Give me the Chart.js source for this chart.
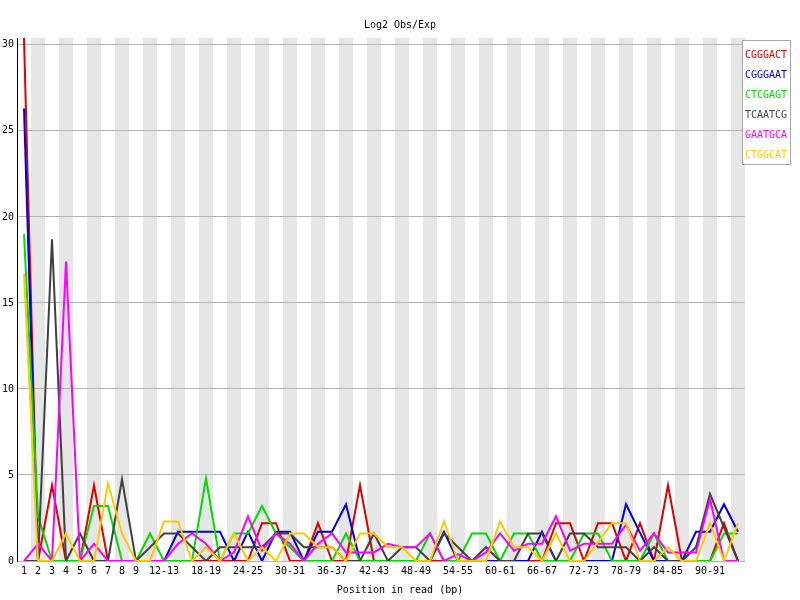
<!DOCTYPE html>
<html>
<head>
<meta charset="utf-8">
<script src="https://cdn.jsdelivr.net/npm/chart.js@4/dist/chart.umd.min.js"></script>
<style>
html, body { margin: 0; padding: 0; background: #fff; }
</style>
</head>
<body>
<canvas id="kmerChart" width="800" height="600"></canvas>
<script>
// positions in read (bp), grouped after 9
const positions = ['1','2','3','4','5','6','7','8','9','10-11','12-13','14-15','16-17','18-19',
	'20-21','22-23','24-25','26-27','28-29','30-31','32-33','34-35','36-37','38-39','40-41',
	'42-43','44-45','46-47','48-49','50-51','52-53','54-55','56-57','58-59','60-61','62-63',
	'64-65','66-67','68-69','70-71','72-73','74-75','76-77','78-79','80-81','82-83','84-85',
	'86-87','88-89','90-91','92-93','94-95'];

const kmers = ['CGGGACT', 'CGGGAAT', 'CTCGAGT', 'TCAATCG', 'GAATGCA', 'CTGGCAT'];

const cgggact = [30.4, 0, 4.4, 0, 0, 4.4, 0, 0, 0, 0,
	0, 0, 0, 0, 0, 0, 0, 2.2, 2.2, 0,
	0, 2.2, 0, 0, 4.4, 0, 0, 0, 0, 0,
	0, 0, 0, 0, 0, 0, 0, 0, 2.2, 2.2,
	0, 2.2, 2.2, 0, 2.2, 0, 4.4, 0, 0, 0,
	2.2, 0];
const cgggaat = [26.3, 0, 0, 0, 0, 0, 0, 0, 0, 0,
	0, 1.7, 1.7, 1.7, 1.7, 0, 1.7, 0, 1.7, 1.7,
	0, 1.7, 1.7, 3.3, 0, 0, 0, 0, 0, 0,
	1.7, 0, 0, 0, 0, 0, 0, 1.7, 0, 0,
	0, 0, 0, 3.3, 1.65, 0, 0, 0, 1.7, 1.7,
	3.3, 1.7];
const ctcgagt = [19.0, 2.6, 0, 0, 0, 3.2, 3.2, 0, 0, 1.6,
	0, 0, 0, 4.8, 0, 1.6, 1.6, 3.2, 1.6, 0.8,
	0, 0, 0, 1.6, 0, 0, 0, 0, 0, 1.6,
	0, 0, 1.6, 1.6, 0, 1.6, 1.6, 0, 0, 0,
	1.6, 1.6, 0, 0, 0, 1.6, 0, 0, 0, 0,
	1.6, 1.6];
const tcaatcg = [0, 0, 18.7, 0, 1.6, 0, 0, 4.75, 0, 0.8,
	1.6, 1.6, 0.8, 0, 0.8, 0.8, 0.8, 0.8, 1.6, 1.6,
	0.8, 0.8, 0.8, 0, 0, 1.6, 0, 0.8, 0.8, 0,
	1.6, 0.8, 0, 0.8, 0, 0, 1.6, 1.6, 0, 1.6,
	1.6, 0.8, 0.8, 0.8, 0, 0.8, 0, 0, 0.8, 3.9,
	1.95, 0];
const gaatgca = [0, 1.0, 0, 17.4, 0, 1.0, 0, 0, 0, 0,
	0, 1.0, 1.6, 1.0, 0, 0.5, 2.6, 0.6, 1.6, 1.0,
	0, 1.0, 1.6, 0.5, 0.5, 0.5, 1.0, 0.8, 0.8, 1.6,
	0, 0.4, 0, 0.5, 1.6, 0.6, 1.0, 1.0, 2.6, 0.6,
	1.0, 1.0, 1.0, 2.1, 0.6, 1.6, 0.5, 0.5, 0.5, 3.6,
	0, 0];
const ctggcat = [16.7, 0, 0, 1.6, 0, 0, 4.5, 1.6, 0, 0,
	2.3, 2.3, 0, 0.8, 0, 1.6, 0, 0.8, 0, 1.6,
	1.6, 0.8, 0.8, 0, 1.6, 1.6, 0.8, 0.8, 0, 0,
	2.3, 0, 0, 0, 2.3, 0.8, 0.8, 0, 1.6, 0,
	0, 1.1, 2.2, 2.2, 0, 0, 0.8, 0, 0, 2.2,
	0, 2.2];

const yTicks = [0, 5, 10, 15, 20, 25, 30];
const yMax = 30.4;

const series = [cgggact, cgggaat, ctcgagt, tcaatcg, gaatgca, ctggcat];
const colours = ['rgb(220,0,0)', 'rgb(0,0,220)', 'rgb(0,220,0)', 'rgb(64,64,64)', 'rgb(255,0,255)', 'rgb(255,200,0)'];
const FONT = '"DejaVu Sans Mono", monospace';

// grey / white stripes behind every other position
const stripes = {
	id: 'stripes',
	beforeDraw(chart) {
		let ctx = chart.ctx;
		let x = chart.scales.x;
		let area = chart.chartArea;
		let bw = area.width / positions.length;
		ctx.save();
		ctx.fillStyle = '#e6e6e6';
		for (let i = 1; i < positions.length; i += 2) {
			let cx = x.getPixelForValue(i);
			ctx.fillRect(cx - bw / 2, area.top, bw, area.bottom - area.top);
		}
		ctx.restore();
	}
};

// title, axis label and the boxed legend the way FastQC draws them
const decorations = {
	id: 'decorations',
	afterDraw(chart) {
		let ctx = chart.ctx;
		let area = chart.chartArea;
		ctx.save();
		ctx.font = '10px ' + FONT;
		ctx.fillStyle = '#000';
		ctx.textAlign = 'center';
		ctx.textBaseline = 'middle';
		ctx.fillText('Log2 Obs/Exp', chart.width / 2, 25);
		ctx.fillText('Position in read (bp)', chart.width / 2, 590);

		let lx = area.right - 3, ly = 40;
		ctx.fillStyle = '#fff';
		ctx.fillRect(lx, ly, 48, 124);
		ctx.strokeStyle = '#a8a8a8';
		ctx.lineWidth = 1;
		ctx.strokeRect(lx + 0.5, ly + 0.5, 48, 124);
		ctx.textAlign = 'left';
		kmers.forEach((k, i) => {
			ctx.fillStyle = colours[i];
			ctx.fillText(k, lx + 3, ly + 15 + i * 20);
		});
		ctx.restore();
	}
};

function drawKmerChart(canvas) {
	let ctx = canvas.getContext('2d');

	var KmerChart = new Chart(ctx, {
		type: 'line',
		data: {
			labels: positions,
			datasets: series.map((d, i) => ({
				label: kmers[i],
				data: d,
				borderColor: colours[i],
				backgroundColor: colours[i],
				borderWidth: 2,
				pointRadius: 0,
				tension: 0,
				fill: false,
				order: series.length - i
			}))
		},
		options: {
			responsive: false,
			animation: false,
			layout: { padding: { top: 38, right: 55, left: 0, bottom: 0 } },
			plugins: {
				legend: { display: false },
				title: { display: false },
				tooltip: { enabled: false }
			},
			scales: {
				x: {
					type: 'category',
					offset: true,
					grid: { display: false, drawTicks: false },
					border: { display: false },
					ticks: {
						autoSkip: false,
						maxRotation: 0,
						padding: 4,
						color: '#000',
						font: { family: FONT, size: 10 },
						callback: function (v, i) {
							return (i < 9 || (i - 10) % 3 === 0) ? positions[i] : '';
						}
					},
					afterFit: s => { s.height = 39; }
				},
				y: {
					min: 0,
					max: yMax,
					grid: { color: '#b4b4b4', drawTicks: false },
					border: { display: true, color: '#000', width: 1 },
					ticks: {
						padding: 3,
						color: '#000',
						font: { family: FONT, size: 10 }
					},
					afterBuildTicks: s => { s.ticks = yTicks.map(v => ({ value: v })); },
					afterFit: s => { s.width = 17; }
				}
			}
		},
		plugins: [stripes, decorations]
	});
}

drawKmerChart(document.getElementById('kmerChart'));
</script>
</body>
</html>
